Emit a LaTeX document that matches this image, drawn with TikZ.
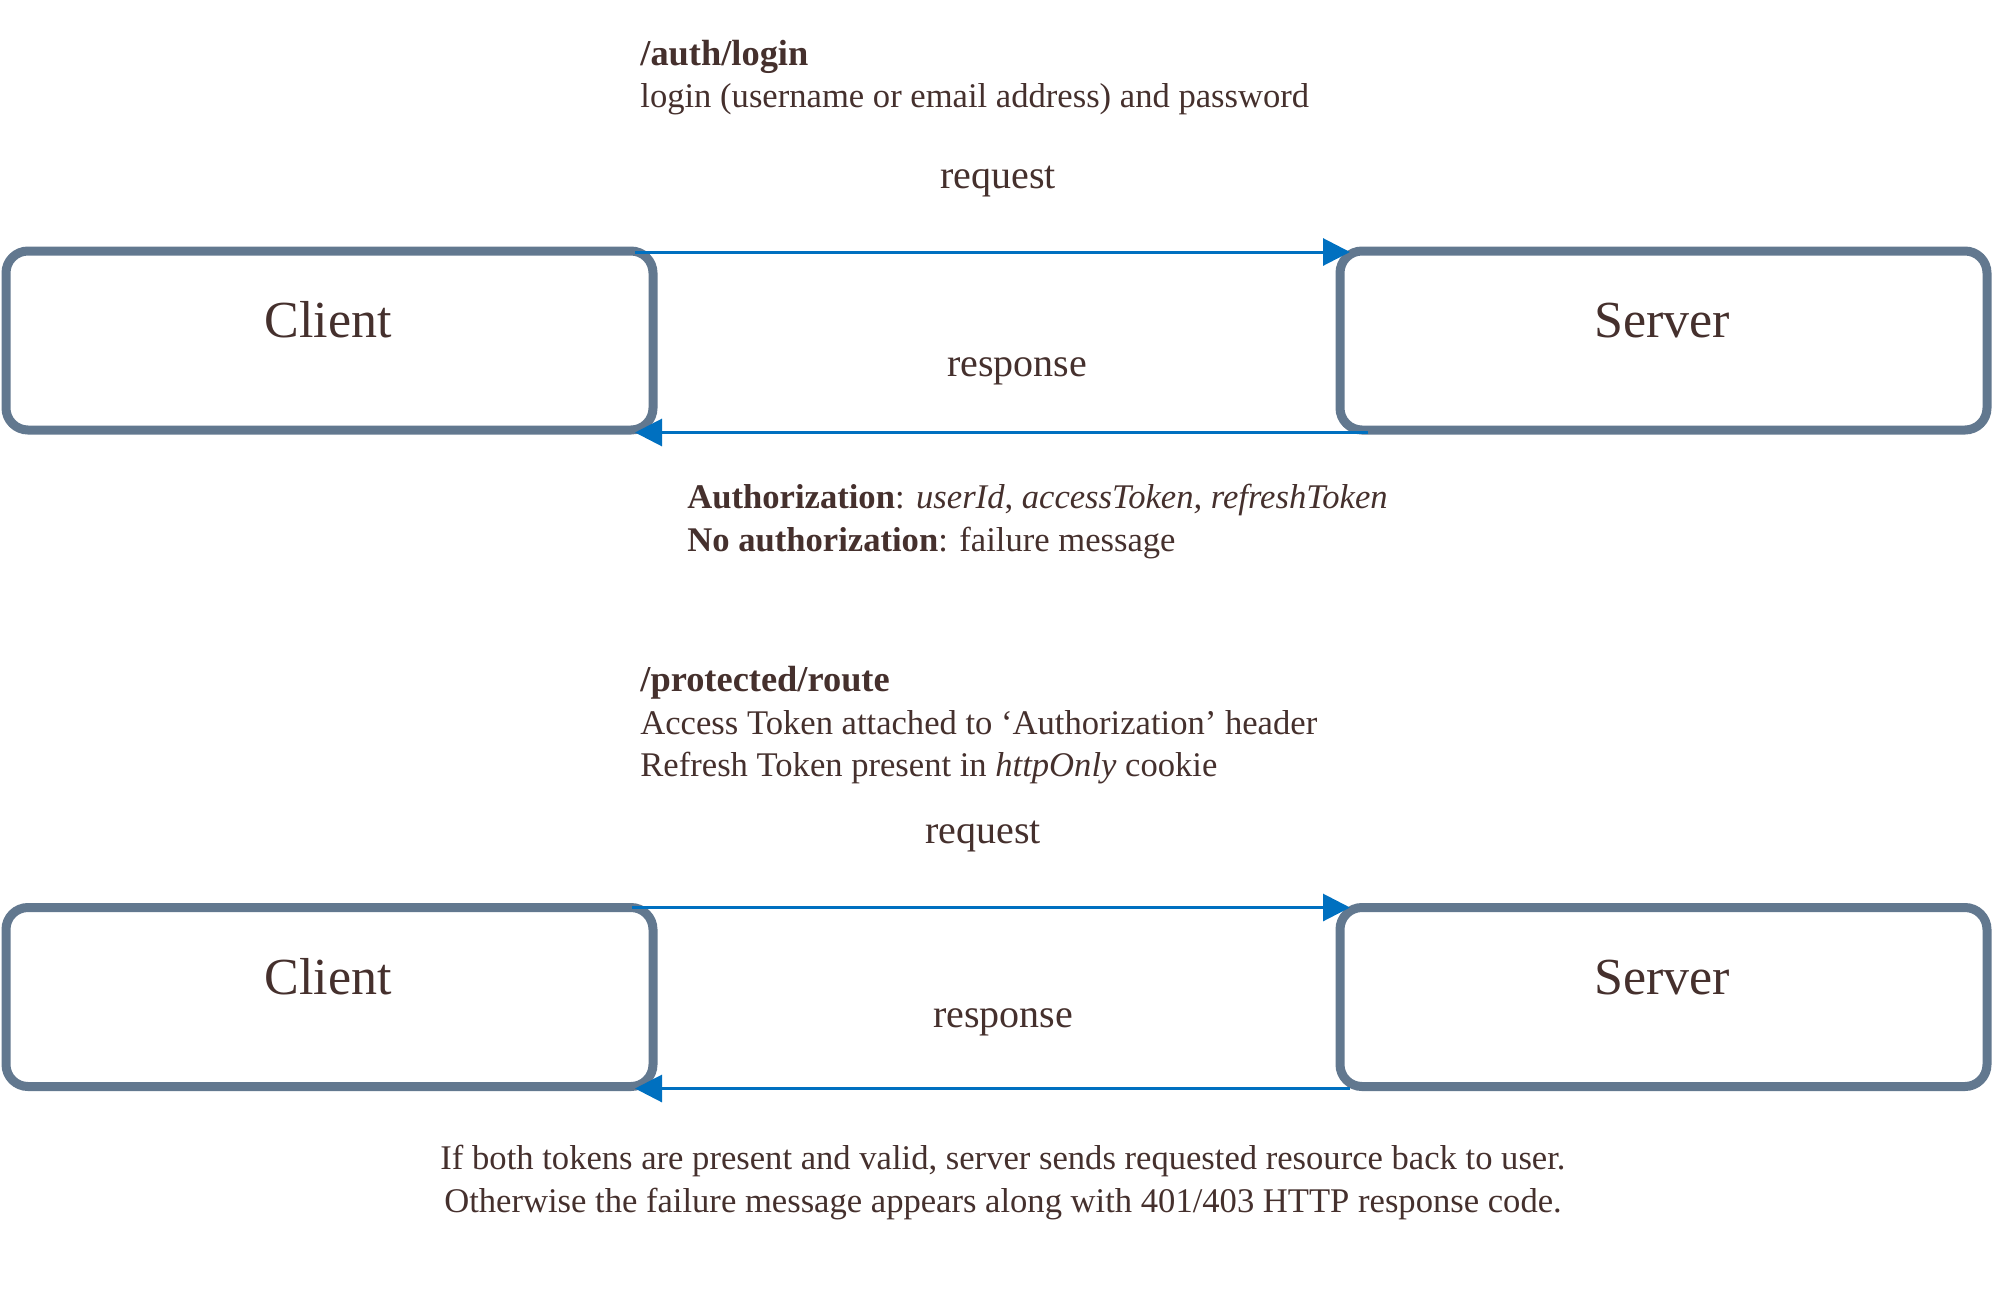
\documentclass[tikz,border=0pt]{standalone}
\usepackage{fontspec}
\setmainfont{Liberation Serif}
\usetikzlibrary{arrows.meta,calc}
\definecolor{txt}{HTML}{45302D}
\definecolor{boxc}{HTML}{62788F}
\definecolor{arrc}{HTML}{0070C0}
\tikzset{
  boxnode/.style={draw=boxc,line width=4.5pt,rounded corners=11pt,rectangle,
    minimum width=323.5pt,minimum height=89.5pt,inner sep=0pt,outer sep=0pt},
  boxlabel/.style={text=txt,font=\fontsize{26}{30}\selectfont,anchor=base,inner sep=0pt},
  arrlabel/.style={text=txt,font=\fontsize{20}{24}\selectfont,anchor=base,inner sep=0pt},
  bodyline/.style={text=txt,font=\fontsize{17.3}{21.5}\selectfont,anchor=base west,inner sep=0pt},
  centerline/.style={text=txt,font=\fontsize{17.3}{21.5}\selectfont,anchor=base,inner sep=0pt},
  flow/.style={draw=arrc,line width=1.5pt,-{Triangle[length=13.5pt,width=13.5pt]}}
}
\begin{document}
\begin{tikzpicture}[x=0.5pt,y=-0.5pt]
\useasboundingbox (0,0) rectangle (1994,1302);

% ---- first exchange ----
\node[bodyline] (t1) at (640,65) {\fontsize{18.2}{21.5}\selectfont\textbf{/auth/login}};
\node[bodyline] (t2) at (640,107) {login (username or email address) and password};
\node[arrlabel] (rq1) at (998,188) {request};
\node[arrlabel] (rs1) at (1017,376) {response};

\node[boxnode] (c1) at (329.5,340.5) {};
\node[boxnode] (s1) at (1663.5,340.5) {};
\node[boxlabel] (c1t) at (328,337) {Client};
\node[boxlabel] (s1t) at (1662,337) {Server};

\draw[flow] ($(c1.north east)+(-18,1)$) -- ($(s1.north west)+(10,1)$);
\draw[flow] ($(s1.south west)+(28,2.5)$) -- ($(c1.south east)+(-18,2.5)$);

\node[bodyline] (a1) at (687,508) {\textbf{Authorization}: \textit{userId}, \textit{accessToken, refreshToken}};
\node[bodyline] (a2) at (687,551) {\textbf{No authorization}: failure message};

% ---- second exchange ----
\node[bodyline] (p1) at (640,691) {\fontsize{18.2}{21.5}\selectfont\textbf{/protected/route}};
\node[bodyline] (p2) at (640,734) {Access Token attached to `Authorization' header};
\node[bodyline] (p3) at (640,776) {Refresh Token present in \textit{httpOnly} cookie};
\node[arrlabel] (rq2) at (983,843) {request};
\node[arrlabel] (rs2) at (1003,1027) {response};

\node[boxnode] (c2) at (329.5,997) {};
\node[boxnode] (s2) at (1663.5,997) {};
\node[boxlabel] (c2t) at (328,994) {Client};
\node[boxlabel] (s2t) at (1662,994) {Server};

\draw[flow] ($(c2.north east)+(-21,0)$) -- ($(s2.north west)+(10,0)$);
\draw[flow] ($(s2.south west)+(10,2)$) -- ($(c2.south east)+(-18,2)$);

\node[centerline] (b1) at (1003,1169) {If both tokens are present and valid, server sends requested resource back to user.};
\node[centerline] (b2) at (1003,1212) {Otherwise the failure message appears along with 401/403 HTTP response code.};
\end{tikzpicture}
\end{document}
